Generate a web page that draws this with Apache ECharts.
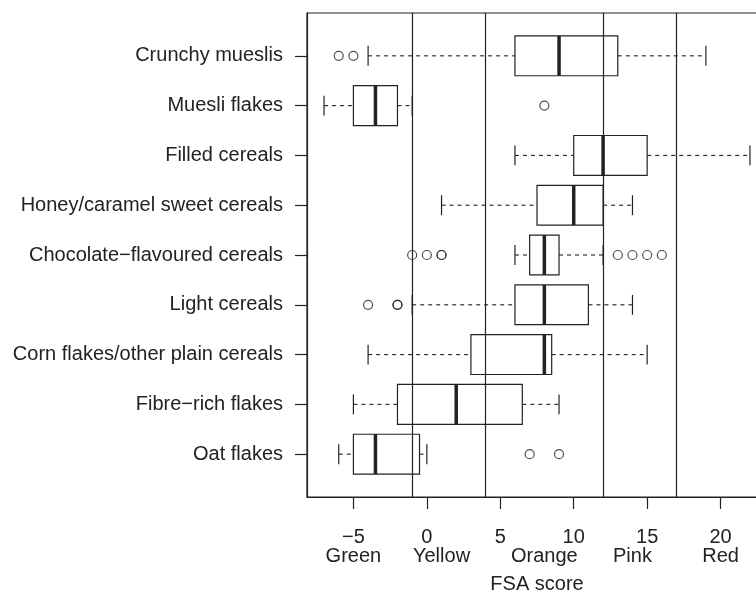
<!DOCTYPE html>
<html lang="en">
<head>
    <meta charset="UTF-8">
    <title>FSA score by cereal type</title>
    <script src="https://cdn.jsdelivr.net/npm/echarts@6/dist/echarts.min.js"></script>
    <style>
        html, body { margin: 0; padding: 0; background: #fff; }
    </style>
</head>
<body>
<div id="main" style="width: 756px;height:592px;"></div>
<script type="text/javascript">
    // categories, top to bottom as in the picture
    var categories = ['Crunchy mueslis', 'Muesli flakes', 'Filled cereals', 'Honey/caramel sweet cereals',
        'Chocolate\u2212flavoured cereals', 'Light cereals', 'Corn flakes/other plain cereals',
        'Fibre\u2212rich flakes', 'Oat flakes'];
    var whiskerLow  = [-4, -7,  6,  1,  6, -1, -4, -5, -6];
    var q1          = [ 6, -5, 10, 7.5, 7,  6,  3, -2, -5];
    var median      = [ 9, -3.5, 12, 10, 8,  8,  8,  2, -3.5];
    var q3          = [13, -2, 15, 12,  9, 11, 8.5, 6.5, -0.5];
    var whiskerHigh = [19, -1, 22, 14, 12, 14, 15,  9,  0];
    var outliers = [
        [-6, -5],
        [8],
        [],
        [],
        [-1, 0, 1, 1, 13, 14, 15, 16],
        [-4, -2, -2],
        [],
        [],
        [7, 9]
    ];
    // FSA colour band boundaries
    var bandCuts = [-1, 4, 12, 17];
    var xTicks = [-5, 0, 5, 10, 15, 20];
    var bandNames = ['Green', 'Yellow', 'Orange', 'Pink', 'Red'];
    var bandNamePos = [-5, 1, 8, 14, 20];

    var n = categories.length;
    var ink = '#222';
    var font = '"Liberation Sans", Arial, sans-serif';

    // box data: [row, low, q1, median, q3, high], row 0 = bottom
    var boxData = categories.map(function (c, i) {
        return [n - 1 - i, whiskerLow[i], q1[i], median[i], q3[i], whiskerHigh[i]];
    });
    var outlierData = [];
    outliers.forEach(function (list, i) {
        list.forEach(function (v) {
            outlierData.push([v, n - 1 - i]);
        });
    });
    var rows = categories.map(function (c, i) { return i; });

    function renderBox(params, api) {
        var row = api.value(0);
        var lo = api.coord([api.value(1), row]);
        var b1 = api.coord([api.value(2), row]);
        var md = api.coord([api.value(3), row]);
        var b3 = api.coord([api.value(4), row]);
        var hi = api.coord([api.value(5), row]);
        var h = api.size([0, 0.8])[1];
        var cy = lo[1];
        var line = { stroke: ink, lineWidth: 1.2, fill: null };
        var dash = { stroke: ink, lineWidth: 1.1, lineDash: [4, 4], fill: null };
        return {
            type: 'group',
            children: [
                { type: 'line', shape: { x1: lo[0], y1: cy, x2: b1[0], y2: cy }, style: dash },
                { type: 'line', shape: { x1: b3[0], y1: cy, x2: hi[0], y2: cy }, style: dash },
                { type: 'line', shape: { x1: lo[0], y1: cy - h / 4, x2: lo[0], y2: cy + h / 4 }, style: line },
                { type: 'line', shape: { x1: hi[0], y1: cy - h / 4, x2: hi[0], y2: cy + h / 4 }, style: line },
                { type: 'rect', shape: { x: b1[0], y: cy - h / 2, width: b3[0] - b1[0], height: h }, style: line },
                { type: 'line', shape: { x1: md[0], y1: cy - h / 2, x2: md[0], y2: cy + h / 2 },
                    style: { stroke: ink, lineWidth: 3.5 } }
            ]
        };
    }

    var option = {
        animation: false,
        backgroundColor: '#fff',
        textStyle: { fontFamily: font },
        grid: {
            left: 307,
            top: 13,
            width: 460,
            bottom: 95,
            outerBoundsMode: 'none',
            containLabel: false,
            show: true,
            borderColor: ink,
            borderWidth: 1.2,
            backgroundColor: 'transparent'
        },
        xAxis: [
            {
                type: 'value',
                min: -8.16,
                max: 23.16,
                name: 'FSA score',
                nameLocation: 'middle',
                nameGap: 77,
                nameTextStyle: { fontSize: 20, color: ink, fontFamily: font },
                axisLine: { show: true, onZero: false, lineStyle: { color: ink, width: 1.2 } },
                axisTick: { show: true, customValues: xTicks, length: 12, lineStyle: { color: ink, width: 1.2 } },
                axisLabel: {
                    customValues: xTicks,
                    margin: 30,
                    fontSize: 20,
                    color: ink,
                    fontFamily: font,
                    formatter: function (v) { return v < 0 ? '\u2212' + Math.abs(v) : String(v); }
                },
                splitLine: { show: false }
            },
            {
                type: 'value',
                position: 'bottom',
                min: -8.16,
                max: 23.16,
                axisLine: { show: false, onZero: false },
                axisTick: { show: false },
                axisLabel: {
                    customValues: bandNamePos,
                    margin: 49,
                    fontSize: 20,
                    color: ink,
                    fontFamily: font,
                    formatter: function (v) { return bandNames[bandNamePos.indexOf(v)]; }
                },
                splitLine: { show: false }
            }
        ],
        yAxis: {
            type: 'value',
            min: -0.86,
            max: n - 1 + 0.86,
            axisLine: { show: true, onZero: false, lineStyle: { color: ink, width: 1.2 } },
            axisTick: { show: true, customValues: rows, length: 12, lineStyle: { color: ink, width: 1.2 } },
            axisLabel: {
                customValues: rows,
                margin: 24,
                fontSize: 20,
                color: ink,
                fontFamily: font,
                formatter: function (v) { return categories[n - 1 - v]; }
            },
            splitLine: { show: false }
        },
        series: [
            {
                type: 'custom',
                renderItem: renderBox,
                encode: { x: [1, 2, 3, 4, 5], y: 0 },
                data: boxData,
                z: 3,
                markLine: {
                    silent: true,
                    symbol: ['none', 'none'],
                    label: { show: false },
                    lineStyle: { color: ink, type: 'solid', width: 1.2 },
                    data: bandCuts.map(function (v) { return { xAxis: v }; })
                }
            },
            {
                type: 'scatter',
                data: outlierData,
                symbol: 'circle',
                symbolSize: 9,
                itemStyle: { color: 'transparent', borderColor: ink, borderWidth: 1.2 },
                z: 4
            }
        ]
    };

    var myChart = echarts.init(document.getElementById('main'), null, { renderer: 'canvas' });
    myChart.setOption(option);
</script>
</body>
</html>
